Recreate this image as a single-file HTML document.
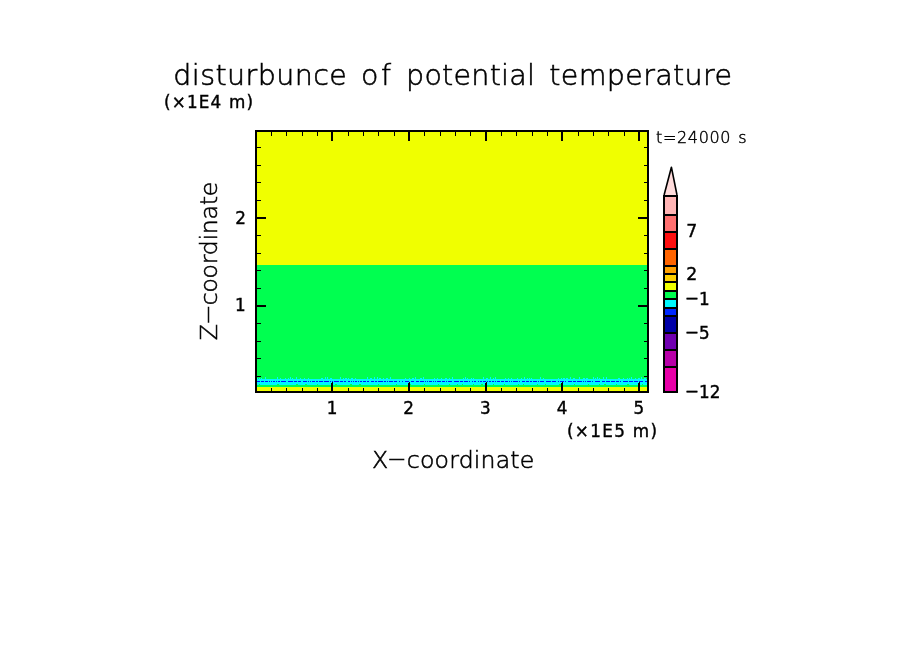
<!DOCTYPE html>
<html lang="en"><head><meta charset="utf-8"><title>disturbunce of potential temperature</title>
<style>
html,body{margin:0;padding:0;background:#fff;}
body{width:904px;height:654px;overflow:hidden;position:relative;}
svg{position:absolute;left:0;top:0;display:block;}
text{font-family:"DejaVu Sans","Liberation Sans",sans-serif;fill:#000;}
.t,.ax,.s{font-family:"DejaVu Sans Light","DejaVu Sans","Liberation Sans",sans-serif;font-weight:200;stroke:#000;stroke-width:0.55px;}
.t{font-size:28.5px;}
.ax{font-size:23.6px;}
.n{font-size:16.8px;stroke:#000;stroke-width:0.4px;}
.s{font-size:16px;stroke-width:0.45px;}
</style></head><body>
<svg width="904" height="654" viewBox="0 0 904 654">
<rect x="0" y="0" width="904" height="654" fill="#fff"/>
<g shape-rendering="crispEdges">
<rect x="255" y="130" width="394" height="135" fill="#f0ff00"/>
<rect x="255" y="265" width="394" height="122" fill="#00ff50"/>
<rect x="255" y="379" width="394" height="6" fill="#00f8ff"/>
<rect x="255" y="387" width="394" height="5" fill="#f0ff00"/>
<path d="M257 378h1v1h-1zM259 378h1v1h-1zM261 378h1v1h-1zM265 377h1v2h-1zM277 377h1v2h-1zM280 378h1v1h-1zM285 378h1v1h-1zM288 378h1v1h-1zM290 377h1v2h-1zM292 378h1v1h-1zM296 377h1v2h-1zM300 378h1v1h-1zM304 378h1v1h-1zM308 378h1v1h-1zM321 378h2v1h-2zM325 377h1v2h-1zM327 377h1v2h-1zM330 378h2v1h-2zM340 377h1v2h-1zM343 378h1v1h-1zM345 378h2v1h-2zM348 378h1v1h-1zM351 378h2v1h-2zM355 378h1v1h-1zM367 377h1v2h-1zM370 378h2v1h-2zM374 377h1v2h-1zM377 377h1v2h-1zM379 378h2v1h-2zM383 378h1v1h-1zM386 378h2v1h-2zM390 377h1v2h-1zM405 378h1v1h-1zM409 378h1v1h-1zM412 378h2v1h-2zM415 377h1v2h-1zM420 378h2v1h-2zM423 377h1v2h-1zM434 378h1v1h-1zM437 378h1v1h-1zM441 378h1v1h-1zM445 378h2v1h-2zM449 378h1v1h-1zM452 377h1v2h-1zM463 378h1v1h-1zM465 377h1v2h-1zM467 378h1v1h-1zM471 378h1v1h-1zM473 378h1v1h-1zM483 377h1v2h-1zM486 378h2v1h-2zM490 377h1v2h-1zM493 378h1v1h-1zM495 377h1v2h-1zM505 378h1v1h-1zM508 378h1v1h-1zM511 378h1v1h-1zM517 378h1v1h-1zM521 378h1v1h-1zM524 377h1v2h-1zM527 378h1v1h-1zM529 378h1v1h-1zM531 378h1v1h-1zM540 377h1v2h-1zM543 378h1v1h-1zM558 378h1v1h-1zM561 378h1v1h-1zM563 378h2v1h-2zM566 378h2v1h-2zM570 377h1v2h-1zM573 378h2v1h-2zM579 377h1v2h-1zM583 378h2v1h-2zM586 378h2v1h-2zM593 377h1v2h-1zM595 378h1v1h-1zM597 377h1v2h-1zM599 378h1v1h-1zM603 377h1v2h-1zM606 377h1v2h-1zM618 378h2v1h-2zM623 378h1v1h-1zM627 378h1v1h-1zM629 378h1v1h-1zM631 377h1v2h-1zM635 378h1v1h-1zM638 378h2v1h-2zM641 377h1v2h-1zM644 378h2v1h-2z" fill="#00f8ff"/>
<path d="M259 384h1v1h-1zM277 384h2v1h-2zM296 384h2v1h-2zM305 384h2v1h-2zM317 384h1v1h-1zM335 384h2v1h-2zM350 384h2v1h-2zM359 384h2v1h-2zM378 384h1v1h-1zM396 384h1v1h-1zM410 384h1v1h-1zM424 384h1v1h-1zM438 384h1v1h-1zM449 384h1v1h-1zM457 384h1v1h-1zM462 384h1v1h-1zM473 384h1v1h-1zM481 384h2v1h-2zM493 384h1v1h-1zM504 384h1v1h-1zM518 384h1v1h-1zM523 384h1v1h-1zM537 384h1v1h-1zM545 384h1v1h-1zM559 384h2v1h-2zM574 384h1v1h-1zM588 384h1v1h-1zM599 384h1v1h-1zM604 384h2v1h-2zM616 384h1v1h-1zM627 384h2v1h-2zM642 384h1v1h-1z" fill="#00ff50"/>
<path d="M257 381h3v1h-3zM261 381h3v1h-3zM265 381h3v1h-3zM269 381h1v1h-1zM271 381h1v1h-1zM273 381h2v1h-2zM276 381h1v1h-1zM278 381h2v1h-2zM281 381h5v1h-5zM288 381h5v1h-5zM294 381h3v1h-3zM298 381h3v1h-3zM303 381h4v1h-4zM308 381h1v1h-1zM310 381h1v1h-1zM312 381h3v1h-3zM316 381h2v1h-2zM319 381h4v1h-4zM324 381h5v1h-5zM330 381h1v1h-1zM332 381h1v1h-1zM334 381h5v1h-5zM340 381h3v1h-3zM344 381h2v1h-2zM348 381h2v1h-2zM351 381h1v1h-1zM353 381h1v1h-1zM355 381h2v1h-2zM358 381h1v1h-1zM360 381h2v1h-2zM363 381h3v1h-3zM367 381h2v1h-2zM371 381h3v1h-3zM375 381h2v1h-2zM378 381h5v1h-5zM384 381h2v1h-2zM387 381h1v1h-1zM389 381h4v1h-4zM394 381h3v1h-3zM399 381h1v1h-1zM402 381h1v1h-1zM405 381h4v1h-4zM411 381h3v1h-3zM416 381h3v1h-3zM420 381h4v1h-4zM425 381h1v1h-1zM427 381h1v1h-1zM429 381h3v1h-3zM433 381h1v1h-1zM435 381h1v1h-1zM437 381h4v1h-4zM442 381h3v1h-3zM446 381h1v1h-1zM448 381h4v1h-4zM454 381h5v1h-5zM460 381h3v1h-3zM464 381h4v1h-4zM469 381h1v1h-1zM472 381h1v1h-1zM474 381h2v1h-2zM478 381h1v1h-1zM480 381h2v1h-2zM483 381h3v1h-3zM487 381h1v1h-1zM489 381h2v1h-2zM492 381h2v1h-2zM495 381h1v1h-1zM497 381h3v1h-3zM501 381h3v1h-3zM505 381h3v1h-3zM509 381h1v1h-1zM511 381h1v1h-1zM513 381h5v1h-5zM519 381h1v1h-1zM522 381h3v1h-3zM526 381h3v1h-3zM530 381h2v1h-2zM533 381h4v1h-4zM538 381h1v1h-1zM540 381h4v1h-4zM546 381h5v1h-5zM552 381h4v1h-4zM558 381h1v1h-1zM560 381h4v1h-4zM565 381h1v1h-1zM568 381h4v1h-4zM573 381h3v1h-3zM577 381h5v1h-5zM583 381h1v1h-1zM585 381h1v1h-1zM587 381h4v1h-4zM592 381h1v1h-1zM595 381h5v1h-5zM602 381h3v1h-3zM606 381h4v1h-4zM611 381h4v1h-4zM616 381h3v1h-3zM620 381h1v1h-1zM623 381h5v1h-5zM629 381h4v1h-4zM634 381h4v1h-4zM639 381h4v1h-4zM645 381h2v1h-2z" fill="#0014ff"/>
<path d="M256 131H648V392H256Z" fill="none" stroke="#000" stroke-width="2"/>
<path d="M271 132h1v4h-1zM271 388h1v3h-1zM286 132h1v4h-1zM286 388h1v3h-1zM302 132h1v4h-1zM302 388h1v3h-1zM317 132h1v4h-1zM317 388h1v3h-1zM331 132h2v9h-2zM331 383h2v8h-2zM332 382h1v1h-1zM348 132h1v4h-1zM348 388h1v3h-1zM363 132h1v4h-1zM363 388h1v3h-1zM378 132h1v4h-1zM378 388h1v3h-1zM394 132h1v4h-1zM394 388h1v3h-1zM408 132h2v9h-2zM408 383h2v8h-2zM409 382h1v1h-1zM424 132h1v4h-1zM424 388h1v3h-1zM440 132h1v4h-1zM440 388h1v3h-1zM455 132h1v4h-1zM455 388h1v3h-1zM470 132h1v4h-1zM470 388h1v3h-1zM485 132h2v9h-2zM485 383h2v8h-2zM486 382h1v1h-1zM501 132h1v4h-1zM501 388h1v3h-1zM516 132h1v4h-1zM516 388h1v3h-1zM532 132h1v4h-1zM532 388h1v3h-1zM547 132h1v4h-1zM547 388h1v3h-1zM561 132h2v9h-2zM561 383h2v8h-2zM562 382h1v1h-1zM578 132h1v4h-1zM578 388h1v3h-1zM593 132h1v4h-1zM593 388h1v3h-1zM608 132h1v4h-1zM608 388h1v3h-1zM624 132h1v4h-1zM624 388h1v3h-1zM638 132h2v9h-2zM638 383h2v8h-2zM639 382h1v1h-1zM257 376h4v1h-4zM644 376h3v1h-3zM257 358h4v1h-4zM644 358h3v1h-3zM257 341h4v1h-4zM644 341h3v1h-3zM257 323h4v1h-4zM644 323h3v1h-3zM257 305h9v2h-9zM638 305h9v2h-9zM257 288h4v1h-4zM644 288h3v1h-3zM257 270h4v1h-4zM644 270h3v1h-3zM257 253h4v1h-4zM644 253h3v1h-3zM257 235h4v1h-4zM644 235h3v1h-3zM257 217h9v2h-9zM638 217h9v2h-9zM257 200h4v1h-4zM644 200h3v1h-3zM257 182h4v1h-4zM644 182h3v1h-3zM257 165h4v1h-4zM644 165h3v1h-3zM257 147h4v1h-4zM644 147h3v1h-3z" fill="#000"/>
<rect x="664" y="367" width="13" height="25" fill="#e800a8"/>
<rect x="664" y="350" width="13" height="17" fill="#b800a8"/>
<rect x="664" y="333" width="13" height="17" fill="#7000b0"/>
<rect x="664" y="316" width="13" height="17" fill="#0000a8"/>
<rect x="664" y="308" width="13" height="8" fill="#0028ff"/>
<rect x="664" y="299" width="13" height="9" fill="#00f8ff"/>
<rect x="664" y="291" width="13" height="8" fill="#00ff50"/>
<rect x="664" y="282" width="13" height="9" fill="#f0ff00"/>
<rect x="664" y="274" width="13" height="8" fill="#ffd000"/>
<rect x="664" y="266" width="13" height="8" fill="#ffa000"/>
<rect x="664" y="249" width="13" height="17" fill="#ff6400"/>
<rect x="664" y="232" width="13" height="17" fill="#ff1010"/>
<rect x="664" y="215" width="13" height="17" fill="#ff7070"/>
<rect x="664" y="196" width="13" height="19" fill="#ffb4b4"/>
<path d="M664 366h13v2h-13zM664 349h13v2h-13zM664 332h13v2h-13zM664 315h13v2h-13zM664 307h13v2h-13zM664 298h13v2h-13zM664 290h13v2h-13zM664 281h13v2h-13zM664 273h13v2h-13zM664 265h13v2h-13zM664 248h13v2h-13zM664 231h13v2h-13zM664 214h13v2h-13zM664 195h13v2h-13z" fill="#000"/>
<path d="M664 195V392H677V195" fill="none" stroke="#000" stroke-width="2"/>
</g>
<path d="M664.1 195L671.4 167.2L677 195" fill="#ffdcdc" stroke="#000" stroke-width="1.6" stroke-linejoin="round"/>
<text class="t" y="85"><tspan x="173.3" textLength="173.6" lengthAdjust="spacing">disturbunce</tspan> <tspan x="361" textLength="30" lengthAdjust="spacing">of</tspan> <tspan x="406.1" textLength="128.8" lengthAdjust="spacing">potential</tspan> <tspan x="549.3" textLength="182.7" lengthAdjust="spacing">temperature</tspan></text>
<text class="n" x="164" y="108.2" textLength="89" lengthAdjust="spacing">(×1E4 m)</text>
<text class="n" x="567" y="437.3" textLength="90" lengthAdjust="spacing">(×1E5 m)</text>
<text class="s" y="143"><tspan x="656" textLength="74.5" lengthAdjust="spacing">t=24000</tspan> <tspan x="738.3">s</tspan></text>
<text class="ax" x="372" y="468.2" style="letter-spacing:0.2px">X<tspan dy="-2" textLength="19.5" lengthAdjust="spacingAndGlyphs">-</tspan><tspan dy="2">coordinate</tspan></text>
<text class="ax" transform="translate(217 340.3) rotate(-90)" x="0" y="0" style="letter-spacing:-0.25px">Z<tspan dy="-2" textLength="19.5" lengthAdjust="spacingAndGlyphs">-</tspan><tspan dy="2">coordinate</tspan></text>
<text class="n" x="332.0" y="414" text-anchor="middle">1</text>
<text class="n" x="408.7" y="414" text-anchor="middle">2</text>
<text class="n" x="485.4" y="414" text-anchor="middle">3</text>
<text class="n" x="562.1" y="414" text-anchor="middle">4</text>
<text class="n" x="638.8" y="414" text-anchor="middle">5</text>
<text class="n" x="240.5" y="223.5" text-anchor="middle">2</text>
<text class="n" x="240.3" y="311.2" text-anchor="middle">1</text>
<text class="n" x="686.3" y="237" textLength="11" lengthAdjust="spacingAndGlyphs">7</text>
<text class="n" x="686.3" y="279.6" textLength="11" lengthAdjust="spacingAndGlyphs">2</text>
<text class="n" x="685" y="304.5"><tspan dy="-1.5" textLength="14" lengthAdjust="spacingAndGlyphs">-</tspan><tspan dy="1.5">1</tspan></text>
<text class="n" x="685" y="338.5"><tspan dy="-1.5" textLength="14" lengthAdjust="spacingAndGlyphs">-</tspan><tspan dy="1.5">5</tspan></text>
<text class="n" x="685" y="397.6"><tspan dy="-1.5" textLength="14" lengthAdjust="spacingAndGlyphs">-</tspan><tspan dy="1.5">12</tspan></text>
</svg>
</body></html>
